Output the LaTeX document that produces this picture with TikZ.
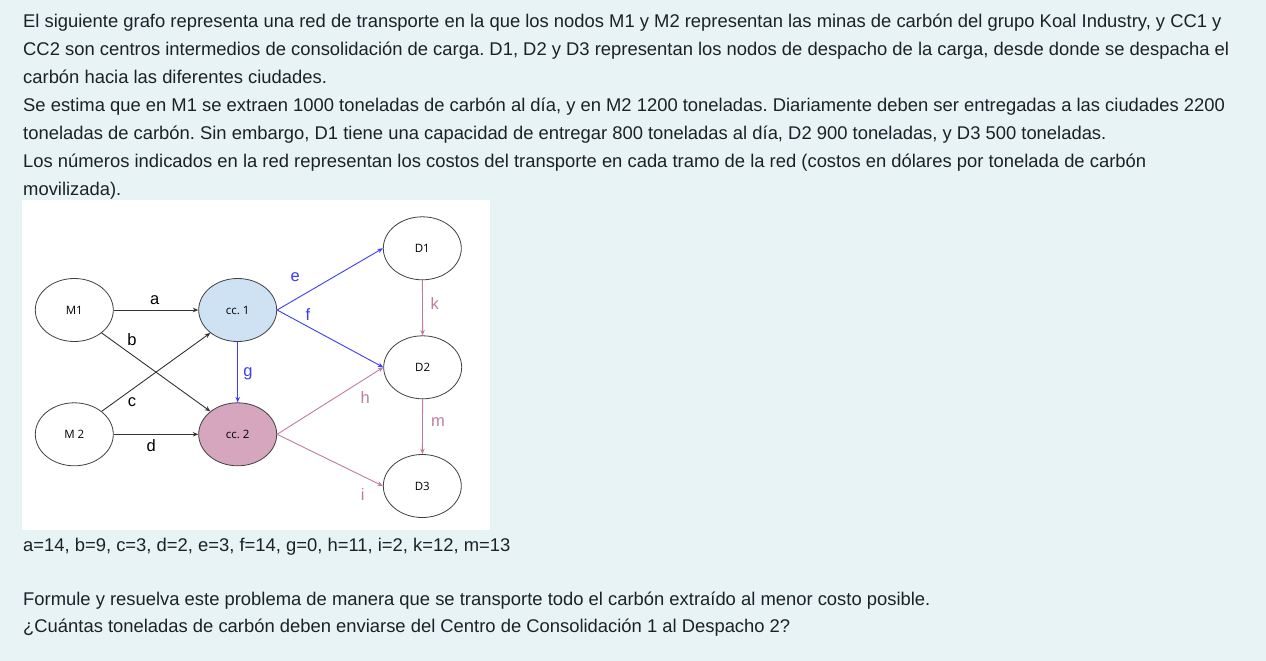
\documentclass[tikz,border=0pt]{standalone}
\usepackage{fontspec}
\setmainfont{Liberation Sans}
\newfontfamily\nodofont{Open Sans}
\usetikzlibrary{shapes.geometric,arrows.meta}
\frenchspacing

\definecolor{fondo}{HTML}{E8F3F6}
\definecolor{texto}{HTML}{1D2125}
\definecolor{azulcc}{HTML}{CFE2F3}
\definecolor{rosacc}{HTML}{D5A6BD}
\definecolor{azulf}{HTML}{3C3CFF}
\definecolor{rosaf}{HTML}{C27BA0}
\definecolor{grisf}{HTML}{333333}

\tikzset{
  nodo/.style = {ellipse, draw=black!75, line width=0.8pt, inner sep=0pt,
                 minimum width=78pt, minimum height=63pt, text=black,
                 font=\nodofont\fontsize{11.5}{13}\selectfont},
  flecha/.style = {line width=0.9pt, -{Stealth[length=5.5pt,width=4.5pt]}},
  etiq/.style = {anchor=base, inner sep=0pt, font=\fontsize{16.5}{19}\selectfont},
  linea/.style = {anchor=base west, inner sep=0pt, text=texto,
                  font=\fontsize{18.4}{22}\selectfont}
}

\begin{document}
\begin{tikzpicture}[x=1pt, y=-1pt]
  % El fondo
  \fill[fondo] (0,0) rectangle (1266,661);
  \useasboundingbox (0,0) rectangle (1266,661);
  \fill[white] (22,200) rectangle (490,530);

  % El enunciado
  \node[linea] (l1) at (23,27.5) {El siguiente grafo representa una red de transporte en la que los nodos M1 y M2 representan las minas de carbón del grupo Koal Industry, y CC1 y};
  \node[linea] (l2) at (23,55.5) {CC2 son centros intermedios de consolidación de carga. D1, D2 y D3 representan los nodos de despacho de la carga, desde donde se despacha el};
  \node[linea] (l3) at (23,83.5) {carbón hacia las diferentes ciudades.};
  \node[linea] (l4) at (23,111.5) {Se estima que en M1 se extraen 1000 toneladas de carbón al día, y en M2 1200 toneladas. Diariamente deben ser entregadas a las ciudades 2200};
  \node[linea] (l5) at (23,139.5) {toneladas de carbón. Sin embargo, D1 tiene una capacidad de entregar 800 toneladas al día, D2 900 toneladas, y D3 500 toneladas.};
  \node[linea] (l6) at (23,167.5) {Los números indicados en la red representan los costos del transporte en cada tramo de la red (costos en dólares por tonelada de carbón};
  \node[linea] (l7) at (23,195.5) {movilizada).};

  % Los nodos
  \node[nodo] (m1) at (74.3,310) {M1};
  \node[nodo] (m2) at (74.3,434.3) {M 2};
  \node[nodo, fill=azulcc] (cc1) at (237.7,310) {cc. 1};
  \node[nodo, fill=rosacc] (cc2) at (237.7,434.3) {cc. 2};
  \node[nodo] (d1) at (422.3,248.3) {D1};
  \node[nodo] (d2) at (422.7,367.3) {D2};
  \node[nodo] (d3) at (422.3,486) {D3};

  % Las flechas
  \draw[flecha, grisf] (m1) -- (cc1);
  \draw[flecha, grisf] (m1.-40) -- (cc2.140);
  \draw[flecha, grisf] (m2.40) -- (cc1.-140);
  \draw[flecha, grisf] (m2) -- (cc2);
  \draw[flecha, azulf] (cc1.east) -- (d1.west);
  \draw[flecha, azulf] (cc1.east) -- (d2.west);
  \draw[flecha, azulf] (cc1) -- (cc2);
  \draw[flecha, rosaf] (cc2.east) -- (d2.west);
  \draw[flecha, rosaf] (cc2.east) -- (d3.west);
  \draw[flecha, rosaf] (d1) -- (d2);
  \draw[flecha, rosaf] (d2) -- (d3);

  % Las letras
  \node[etiq, text=black] (la) at (154.7,304) {a};
  \node[etiq, text=black] (lb) at (132,345) {b};
  \node[etiq, text=black] (lc) at (132,406.7) {c};
  \node[etiq, text=black] (ld) at (151.3,451.7) {d};
  \node[etiq, text=azulf] (le) at (295.3,281.7) {e};
  \node[etiq, text=azulf] (lf) at (308,320.7) {f};
  \node[etiq, text=azulf] (lg) at (248,376.7) {g};
  \node[etiq, text=rosaf] (lh) at (365.3,403.3) {h};
  \node[etiq, text=rosaf] (li) at (362.7,500) {i};
  \node[etiq, text=rosaf] (lk) at (434.7,309.3) {k};
  \node[etiq, text=rosaf] (lm) at (438,426.7) {m};

  % Los costos y la pregunta
  \node[linea] (costos) at (23,551) {a=14, b=9, c=3, d=2, e=3, f=14, g=0, h=11, i=2, k=12, m=13};
  \node[linea] (p1) at (23,605) {Formule y resuelva este problema de manera que se transporte todo el carbón extraído al menor costo posible.};
  \node[linea] (p2) at (23,632.7) {¿Cuántas toneladas de carbón deben enviarse del Centro de Consolidación 1 al Despacho 2?};
\end{tikzpicture}
\end{document}
